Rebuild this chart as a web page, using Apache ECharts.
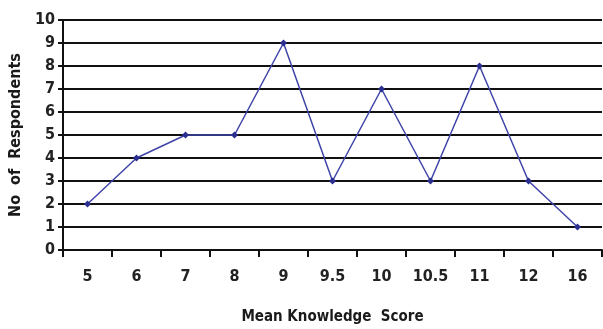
<!DOCTYPE html>
<html><head><meta charset="utf-8">
<script src="https://cdn.jsdelivr.net/npm/echarts@6/dist/echarts.min.js"></script>
<style>html,body{margin:0;padding:0;background:#fff}#c{width:603px;height:329px}</style>
</head><body><div id="c"></div>
<script>
const categories = ['5','6','7','8','9','9.5','10','10.5','11','12','16'];
const respondents = [2,4,5,5,9,3,7,3,8,3,1];
const yTicks = [0,1,2,3,4,5,6,7,8,9,10];

const chart = echarts.init(document.getElementById('c'), null, {renderer:'canvas'});
const font = "'DejaVu Sans Condensed', 'Liberation Sans', sans-serif";
chart.setOption({
  animation:false,
  backgroundColor:'#fff',
  grid:{left:63,right:1,top:20,bottom:79,containLabel:false,outerBoundsMode:'none'},
  xAxis:{
    type:'category', data:categories, boundaryGap:true,
    name:'Mean Knowledge  Score', nameLocation:'middle', nameGap:60,
    nameTextStyle:{fontFamily:font,fontWeight:'bold',fontSize:15,color:'#1a1a1a'},
    axisLine:{lineStyle:{color:'#111',width:2}},
    axisTick:{show:true,length:7,lineStyle:{color:'#111',width:2}},
    axisLabel:{fontFamily:font,fontWeight:'bold',fontSize:16,color:'#222',margin:19}
  },
  yAxis:{
    type:'value', min:yTicks[0], max:yTicks[yTicks.length-1], interval:1,
    name:'No  of  Respondents', nameLocation:'middle', nameGap:37,
    nameTextStyle:{fontFamily:font,fontWeight:'bold',fontSize:16,color:'#1a1a1a'},
    axisLine:{show:true,lineStyle:{color:'#111',width:2}},
    axisTick:{show:true,length:5,lineStyle:{color:'#111',width:2}},
    axisLabel:{fontFamily:font,fontWeight:'bold',fontSize:16,color:'#222',margin:8},
    splitLine:{show:true,lineStyle:{color:'#111',width:2}}
  },
  series:[{
    type:'line', data:respondents,
    symbol:'diamond', symbolSize:7,
    lineStyle:{color:'#3f45a8',width:1.5},
    itemStyle:{color:'#2a2f8f'}
  }]
});
</script></body></html>
